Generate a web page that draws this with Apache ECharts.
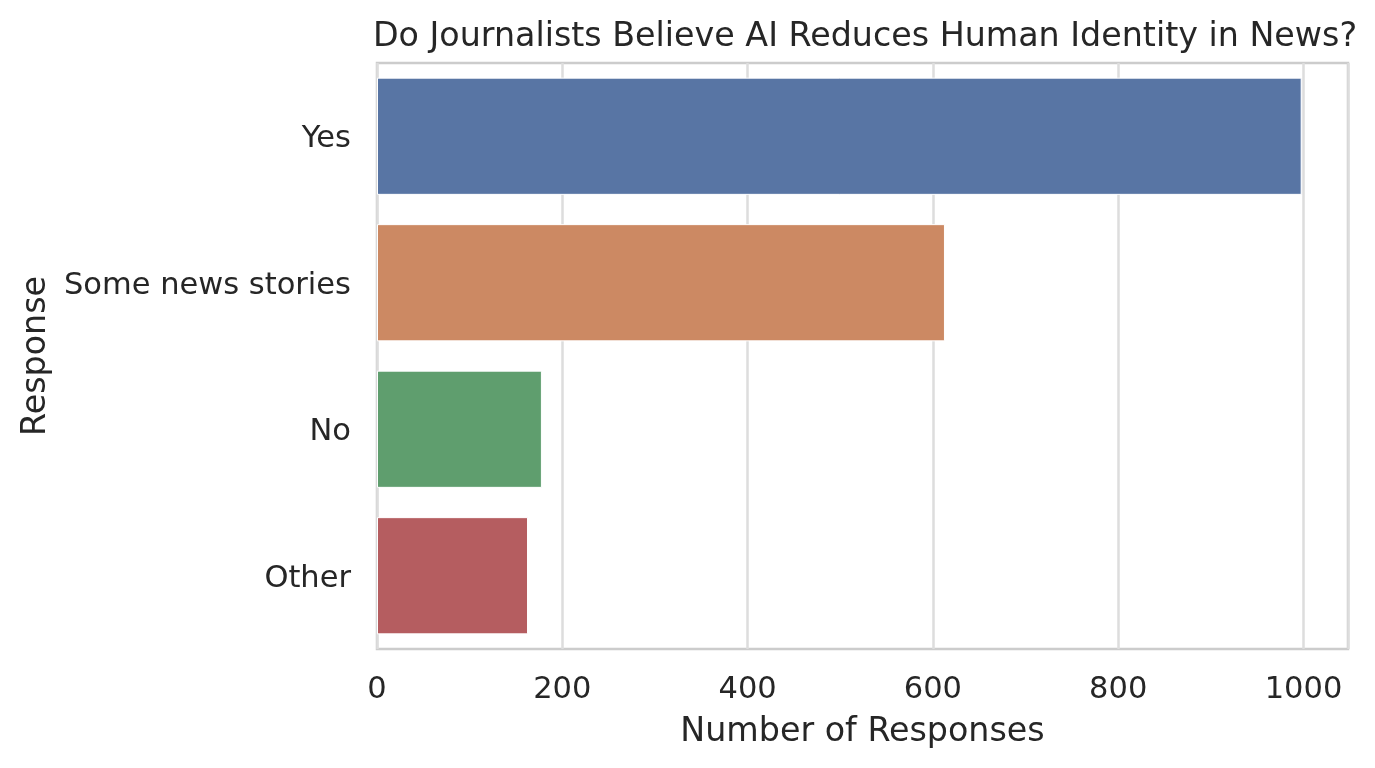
<!DOCTYPE html>
<html>
<head>
<meta charset="utf-8">
<script src="https://cdn.jsdelivr.net/npm/echarts@6/dist/echarts.min.js"></script>
<style>
  html, body { margin: 0; padding: 0; background: #fff; }
  #chart { width: 1375px; height: 768px; }
</style>
</head>
<body>
<div id="chart"></div>
<script>
// data
var responses = ['Yes', 'Some news stories', 'No', 'Other'];
var counts = [998, 613, 178, 163];

var palette = ['#5875a4', '#cc8963', '#5f9e6e', '#b55d60'];
var textColor = '#262626';
var font = 'DejaVu Sans';

var chart = echarts.init(document.getElementById('chart'));

var option = {
    backgroundColor: '#ffffff',
    animation: false,
    color: palette,
    title: {
        text: 'Do Journalists Believe AI Reduces Human Identity in News?',
        left: 860,
        textAlign: 'center',
        top: 16,
        textStyle: { fontFamily: font, fontSize: 33.3, fontWeight: 'normal', color: textColor }
    },
    grid: {
        left: 377,
        right: 27,
        top: 63,
        bottom: 119,
        show: true,
        borderColor: '#cccccc',
        borderWidth: 2.5,
        backgroundColor: 'transparent'
    },
    xAxis: {
        type: 'value',
        min: 0,
        max: 1048,
        interval: 200,
        name: 'Number of Responses',
        nameLocation: 'middle',
        nameGap: 67,
        nameTextStyle: { fontFamily: font, fontSize: 33.3, color: textColor },
        axisLine: { show: false },
        axisTick: { show: false },
        axisLabel: {
            fontFamily: font, fontSize: 30.5, color: textColor, margin: 26,
            showMaxLabel: false,
            formatter: function (v) { return String(v); }
        },
        splitLine: { show: true, lineStyle: { color: '#dddddd', width: 2.5 } }
    },
    yAxis: {
        type: 'category',
        inverse: true,
        data: responses,
        name: 'Response',
        nameLocation: 'middle',
        nameGap: 317,
        nameRotate: 90,
        nameTextStyle: { fontFamily: font, fontSize: 33.3, color: textColor },
        axisLine: { show: false },
        axisTick: { show: false },
        axisLabel: {
            margin: 26,
            formatter: function (v) { return '{t|' + v + '}'; },
            rich: {
                t: { fontFamily: font, fontSize: 30.5, color: textColor, padding: [6, 0, 0, 0] }
            }
        },
        splitLine: { show: false }
    },
    series: [
        {
            type: 'bar',
            data: counts,
            colorBy: 'data',
            barCategoryGap: '20%',
            itemStyle: { borderColor: '#ffffff', borderWidth: 1 }
        }
    ]
};

chart.setOption(option);
</script>
</body>
</html>
